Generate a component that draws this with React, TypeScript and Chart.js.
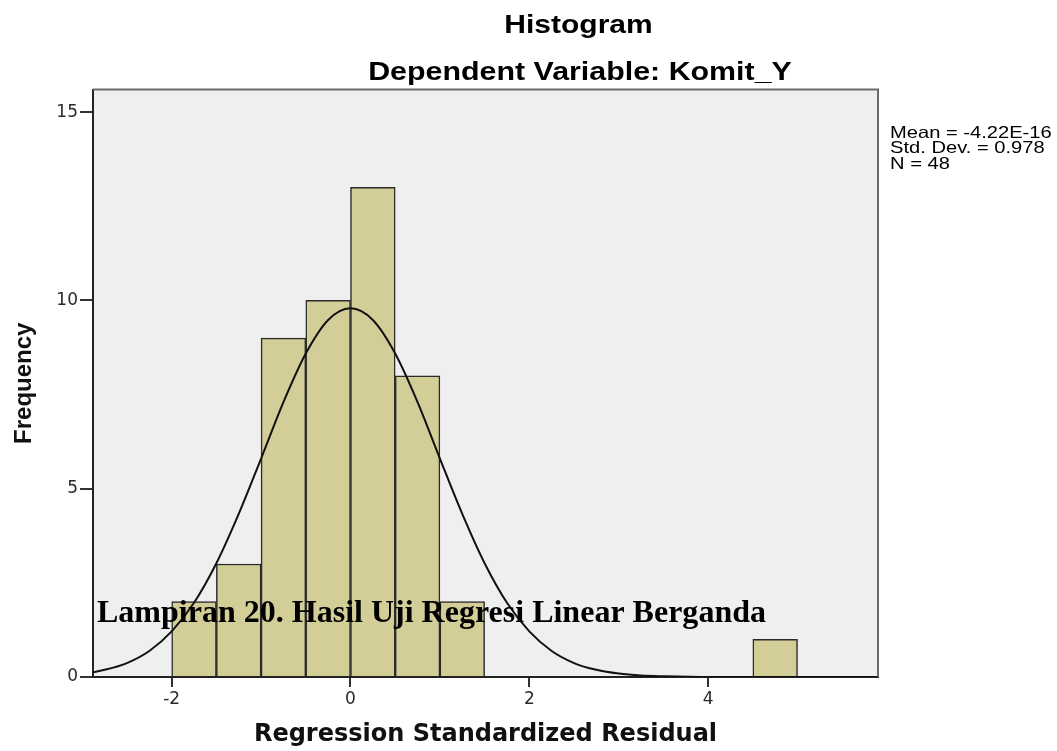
import React, { useEffect, useRef } from 'react';
import { Chart, registerables } from 'chart.js';

Chart.register(...registerables);

// Histogram bins (width 0.5): centers and counts
const binCenters = [-1.75, -1.25, -0.75, -0.25, 0.25, 0.75, 1.25, 4.75];
const binCounts = [2, 3, 9, 10, 13, 8, 2, 1];

// Normal curve
const curveX = [-2.88, -2.75, -2.5, -2.25, -2, -1.75, -1.5, -1.25, -1, -0.75, -0.5, -0.25, 0, 0.25, 0.5, 0.75, 1, 1.25, 1.5, 1.75, 2, 2.25, 2.5, 2.75, 3, 3.25, 3.5, 4, 4.5, 5, 5.5, 5.9];
const curveY = [0.13, 0.19, 0.37, 0.69, 1.21, 1.97, 3.02, 4.33, 5.8, 7.3, 8.59, 9.48, 9.79, 9.48, 8.59, 7.3, 5.8, 4.33, 3.02, 1.97, 1.21, 0.69, 0.37, 0.19, 0.09, 0.04, 0.02, 0, 0, 0, 0, 0];

const xTickValues = [-2, 0, 2, 4];
const yTickValues = [0, 5, 10, 15];
const xRange = [-2.88, 5.9];
const yRange = [0, 15.6];

const titleText = 'Histogram';
const subtitleText = 'Dependent Variable: Komit_Y';
const statsLines = ['Mean = -4.22E-16', 'Std. Dev. = 0.978', 'N = 48'];
const overlayText = 'Lampiran 20. Hasil Uji Regresi Linear Berganda';
const xAxisTitle = 'Regression Standardized Residual';
const yAxisTitle = 'Frequency';

function drawStretched(ctx: CanvasRenderingContext2D, text: string, font: string, x: number, y: number, sx: number, align: 'left' | 'center') {
  ctx.save();
  ctx.font = font;
  ctx.textBaseline = 'alphabetic';
  ctx.textAlign = 'left';
  const w = ctx.measureText(text).width * sx;
  const left = align === 'center' ? x - w / 2 : x;
  ctx.translate(left, y);
  ctx.scale(sx, 1);
  ctx.fillStyle = '#000';
  ctx.fillText(text, 0, 0);
  ctx.restore();
}

function drawFit(ctx: CanvasRenderingContext2D, text: string, font: string, left: number, y: number, width: number) {
  ctx.save();
  ctx.font = font;
  const m = ctx.measureText(text).width;
  ctx.restore();
  drawStretched(ctx, text, font, left, y, width / m, 'left');
}

const decorPlugin = {
  id: 'decor',
  beforeDraw(chart: any) {
    const { ctx, chartArea: a } = chart;
    ctx.save();
    ctx.fillStyle = '#EFEFEF';
    ctx.fillRect(a.left, a.top, a.right - a.left, a.bottom - a.top);
    ctx.restore();
  },
  afterDraw(chart: any) {
    const { ctx, chartArea: a } = chart;
    ctx.save();
    ctx.strokeStyle = '#6a6a6a';
    ctx.lineWidth = 2;
    ctx.beginPath();
    ctx.moveTo(a.left, a.top);
    ctx.lineTo(a.right, a.top);
    ctx.lineTo(a.right, a.bottom);
    ctx.stroke();
    ctx.restore();

    drawStretched(ctx, titleText, 'bold 25px "Liberation Sans"', 578.5, 33, 1.2, 'center');
    drawStretched(ctx, subtitleText, 'bold 25px "Liberation Sans"', 580, 80, 1.215, 'center');
    statsLines.forEach((line, i) => {
      drawStretched(ctx, line, '16.5px "Liberation Sans"', a.right + 12, 137.5 + i * 15.8, 1.22, 'left');
    });
    drawFit(ctx, overlayText, 'bold 31px "Liberation Serif"', 97, 622, 669);
  },
};

export default function App() {
  const ref = useRef<HTMLCanvasElement | null>(null);
  useEffect(() => {
    if (!ref.current) return;
    const chart = new Chart(ref.current, {
      type: 'bar',
      data: {
        datasets: [
          {
            type: 'line',
            data: curveX.map((x, i) => ({ x, y: curveY[i] })),
            borderColor: '#111',
            borderWidth: 2,
            pointRadius: 0,
            cubicInterpolationMode: 'monotone',
            fill: false,
          } as any,
          {
            type: 'bar',
            data: binCenters.map((x, i) => ({ x, y: binCounts[i] })),
            backgroundColor: '#D3CE97',
            borderColor: '#2a2a2a',
            borderWidth: 1.5,
            barPercentage: 1,
            categoryPercentage: 1,
          } as any,
        ],
      },
      options: {
        animation: false,
        responsive: true,
        maintainAspectRatio: false,
        layout: { padding: { top: 89.5, right: 179, left: 0, bottom: 0 } },
        plugins: { legend: { display: false }, tooltip: { enabled: false }, title: { display: false } },
        scales: {
          x: {
            type: 'linear',
            min: xRange[0],
            max: xRange[1],
            offset: false,
            afterBuildTicks: (s: any) => { s.ticks = xTickValues.map((v) => ({ value: v })); },
            afterFit: (s: any) => { s.height = 74; },
            grid: { display: true, drawOnChartArea: false, drawTicks: true, tickLength: 10, color: '#333', lineWidth: 2, offset: false },
            border: { display: true, color: '#222', width: 2 },
            ticks: { font: { family: '"DejaVu Sans"', size: 17 }, color: '#2a2a2a', padding: 2, maxRotation: 0 },
            title: { display: true, text: xAxisTitle, font: { family: '"DejaVu Sans"', size: 24, weight: 'bold' }, color: '#111', padding: { top: 0, bottom: 2 } },
          },
          y: {
            type: 'linear',
            min: yRange[0],
            max: yRange[1],
            afterBuildTicks: (s: any) => { s.ticks = yTickValues.map((v) => ({ value: v })); },
            afterFit: (s: any) => { s.width = 93; },
            grid: { display: true, drawOnChartArea: false, drawTicks: true, tickLength: 13, color: '#333', lineWidth: 2 },
            border: { display: true, color: '#222', width: 2 },
            ticks: { font: { family: '"DejaVu Sans"', size: 17 }, color: '#2a2a2a', padding: 2 },
            title: { display: true, text: yAxisTitle, font: { family: '"Liberation Sans"', size: 24, weight: 'bold' }, color: '#111', padding: { top: 10, bottom: 0 } },
          },
        },
      },
      plugins: [decorPlugin],
    } as any);
    return () => chart.destroy();
  }, []);
  return (
    <div style={{ position: 'fixed', left: 0, top: 0, width: 1057, height: 751, background: '#fff' }}>
      <canvas ref={ref} />
    </div>
  );
}
